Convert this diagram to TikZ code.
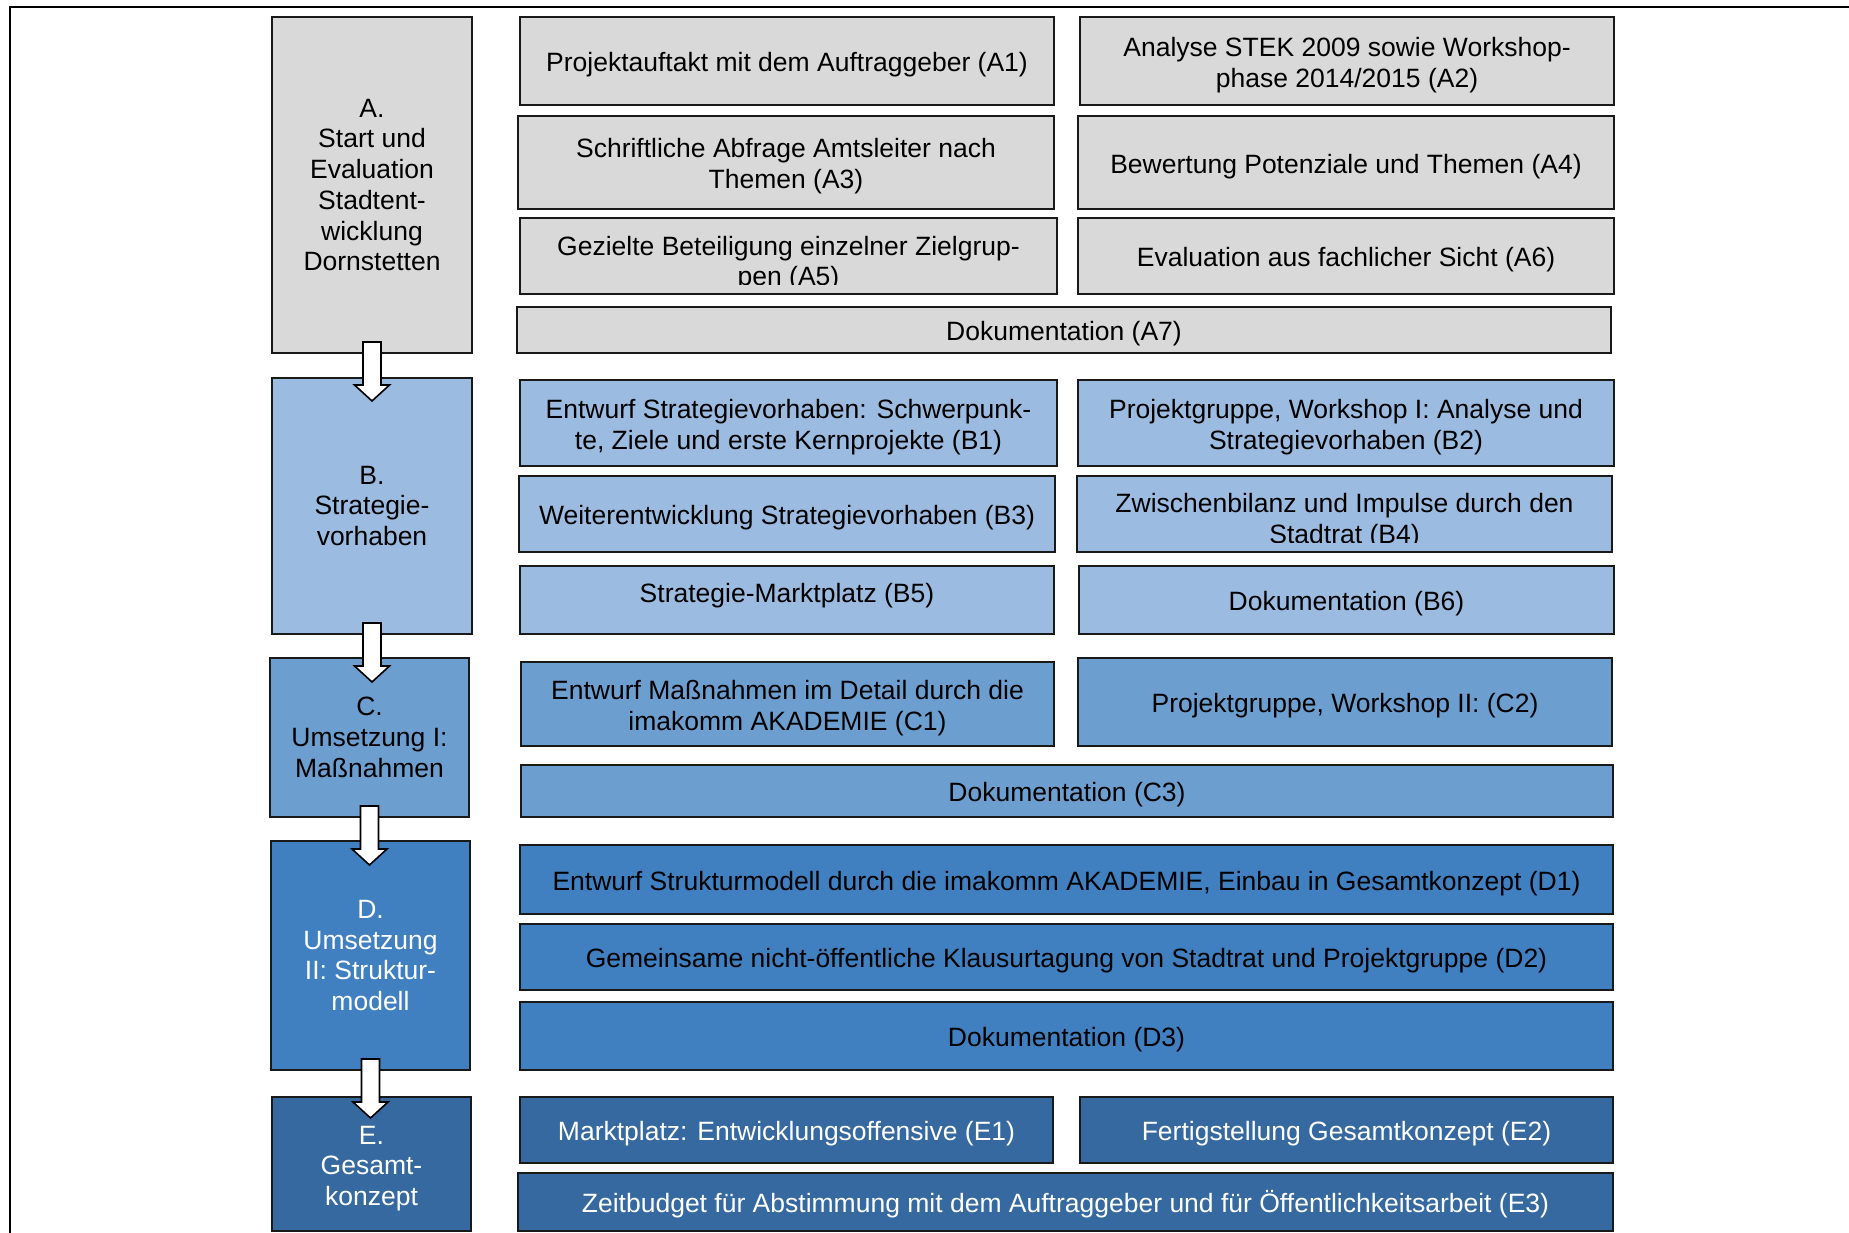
\documentclass[tikz,border=0pt]{standalone}
\usepackage{fontspec}
\setmainfont{Liberation Sans}
\definecolor{cA}{HTML}{D9D9D9}
\definecolor{cB}{HTML}{9BBBE0}
\definecolor{cC}{HTML}{6C9FD0}
\definecolor{cD}{HTML}{4080C0}
\definecolor{cE}{HTML}{36699F}
\newcommand\boxfont{\fontsize{26.5pt}{30.7pt}\selectfont}
\newcommand\tstrut{\rule{0pt}{27pt}}
\begin{document}
\begin{tikzpicture}[x=1pt,y=-1pt,
  box/.style={draw=black!90, line width=2pt, rectangle, inner sep=0pt, align=center, font=\boxfont},
  txt/.style={inner sep=0pt, align=center, font=\boxfont},
  wtext/.style={text=white},
  barrow/.style={draw=black, line width=1.6pt, fill=white, line join=miter}]
\useasboundingbox (0,0) rectangle (1849,1233);
% frame
\draw[line width=2.5pt] (10,1240) -- (10,7) -- (1855,7);

% left column
\node[box, fill=cA, minimum width=200, minimum height=336] (A) at (372,185) {A.\\Start und\\Evaluation\\Stadtent-\\wicklung\\Dornstetten};
\node[box, fill=cB, minimum width=200, minimum height=256] (B) at (372,506) {B.\\Strategie-\\vorhaben};
\node[box, fill=cC, minimum width=199, minimum height=159] (C) at (369.5,737.5) {C.\\Umsetzung I:\\Maßnahmen};
\node[box, fill=cD, wtext, minimum width=199, minimum height=229] (D) at (370.5,955.5) {D.\\Umsetzung\\II: Struktur-\\modell};
\node[box, fill=cE, wtext, minimum width=199, minimum height=134] (E) at (371.5,1164) {\tstrut E.\\Gesamt-\\konzept};

% A rows
\node[box, fill=cA, minimum width=534, minimum height=88] (A1) at (787,61) {\tstrut Projektauftakt mit dem Auftraggeber (A1)};
\node[box, fill=cA, minimum width=534, minimum height=88] (A2) at (1347,61) {\tstrut Analyse STEK 2009 sowie Workshop-\\phase 2014/2015 (A2)};
\node[box, fill=cA, minimum width=536, minimum height=93] (A3) at (786,162.5) {\tstrut Schriftliche Abfrage Amtsleiter nach\\Themen (A3)};
\node[box, fill=cA, minimum width=536, minimum height=93] (A4) at (1346,162.5) {\tstrut Bewertung Potenziale und Themen (A4)};
\node[box, fill=cA, minimum width=537, minimum height=76,
  path picture={\clip ([yshift=9pt]path picture bounding box.south west) rectangle (path picture bounding box.north east);
    \node[txt] at ([yshift=-7.5pt]path picture bounding box.center) {Gezielte Beteiligung einzelner Zielgrup-\\pen (A5)};}] (A5) at (788.5,256) {};
\node[box, fill=cA, minimum width=536, minimum height=76] (A6) at (1346,256) {\tstrut Evaluation aus fachlicher Sicht (A6)};
\node[box, fill=cA, minimum width=1094, minimum height=46] (A7) at (1064,330) {\tstrut Dokumentation (A7)};

% B rows
\node[box, fill=cB, minimum width=537, minimum height=86] (B1) at (788.5,423) {\tstrut Entwurf Strategievorhaben: Schwerpunk-\\te, Ziele und erste Kernprojekte (B1)};
\node[box, fill=cB, minimum width=536, minimum height=86] (B2) at (1346,423) {\tstrut Projektgruppe, Workshop I: Analyse und\\Strategievorhaben (B2)};
\node[box, fill=cB, minimum width=536, minimum height=76] (B3) at (787,514) {\tstrut Weiterentwicklung Strategievorhaben (B3)};
\node[box, fill=cB, minimum width=535, minimum height=76,
  path picture={\clip ([yshift=10pt]path picture bounding box.south west) rectangle (path picture bounding box.north east);
    \node[txt] at ([yshift=-7pt]path picture bounding box.center) {Zwischenbilanz und Impulse durch den\\Stadtrat (B4)};}] (B4) at (1344.5,514) {};
\node[box, fill=cB, minimum width=534, minimum height=68,
  path picture={\node[txt] at ([yshift=4.5pt]path picture bounding box.center) {Strategie-Marktplatz (B5)};}] (B5) at (787,600) {};
\node[box, fill=cB, minimum width=535, minimum height=68] (B6) at (1346.5,600) {\tstrut Dokumentation (B6)};

% C rows
\node[box, fill=cC, minimum width=533, minimum height=84] (C1) at (787.5,704) {\tstrut Entwurf Maßnahmen im Detail durch die\\imakomm AKADEMIE (C1)};
\node[box, fill=cC, minimum width=534, minimum height=88] (C2) at (1345,702) {\tstrut Projektgruppe, Workshop II: (C2)};
\node[box, fill=cC, minimum width=1092, minimum height=52] (C3) at (1067,791) {\tstrut Dokumentation (C3)};

% D rows
\node[box, fill=cD, minimum width=1093, minimum height=69] (D1) at (1066.5,879.5) {\tstrut Entwurf Strukturmodell durch die imakomm AKADEMIE, Einbau in Gesamtkonzept (D1)};
\node[box, fill=cD, minimum width=1093, minimum height=66] (D2) at (1066.5,957) {\tstrut Gemeinsame nicht-öffentliche Klausurtagung von Stadtrat und Projektgruppe (D2)};
\node[box, fill=cD, minimum width=1093, minimum height=68] (D3) at (1066.5,1036) {\tstrut Dokumentation (D3)};

% E rows
\node[box, fill=cE, wtext, minimum width=533, minimum height=66] (E1) at (786.5,1130) {\tstrut Marktplatz: Entwicklungsoffensive (E1)};
\node[box, fill=cE, wtext, minimum width=533, minimum height=66] (E2) at (1346.5,1130) {\tstrut Fertigstellung Gesamtkonzept (E2)};
\node[box, fill=cE, wtext, minimum width=1095, minimum height=58] (E3) at (1065.5,1202) {\tstrut Zeitbudget für Abstimmung mit dem Auftraggeber und für Öffentlichkeitsarbeit (E3)};

% block arrows between phases
\foreach \u in {A,B,C,D}{
  \draw[barrow] ([xshift=-9pt,yshift=12pt]\u.south) -- ++(0,43) -- ++(-8.5,0) -- ++(17.5,16) -- ++(17.5,-16) -- ++(-8.5,0) -- ++(0,-43) -- cycle;
}
\end{tikzpicture}
\end{document}
